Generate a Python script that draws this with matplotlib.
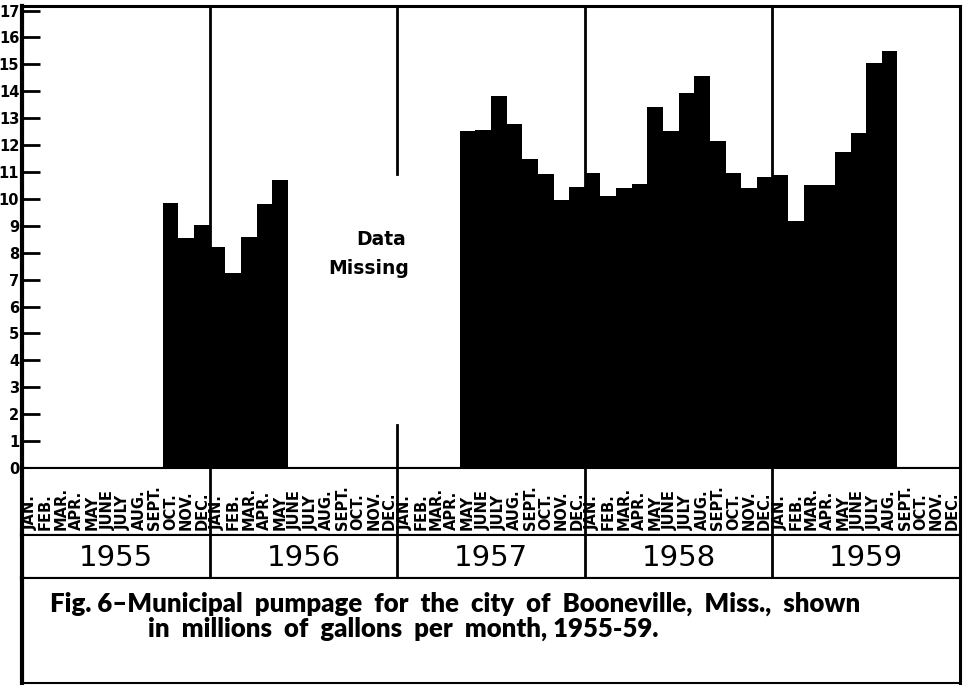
import numpy as np
import matplotlib.pyplot as plt

nan = np.nan

# monthly pumpage, millions of gallons (nan = no data)
years = ['1955', '1956', '1957', '1958', '1959']
months = ['JAN.', 'FEB.', 'MAR.', 'APR.', 'MAY', 'JUNE',
          'JULY', 'AUG.', 'SEPT.', 'OCT.', 'NOV.', 'DEC.']
pump_1955 = [nan, nan, nan, nan, nan, nan, nan, nan, nan, 9.85, 8.55, 9.03]
pump_1956 = [8.23, 7.25, 8.6, 9.81, 10.7, nan, nan, nan, nan, nan, nan, nan]
pump_1957 = [nan, nan, nan, nan, 12.53, 12.57, 13.83, 12.79, 11.49, 10.94, 9.96, 10.46]
pump_1958 = [10.97, 10.11, 10.41, 10.56, 13.43, 12.53, 13.94, 14.55, 12.16, 10.97, 10.42, 10.83]
pump_1959 = [10.89, 9.18, 10.52, 10.5, 11.76, 12.45, 15.07, 15.51, nan, nan, nan, nan]

pump = np.array(pump_1955 + pump_1956 + pump_1957 + pump_1958 + pump_1959)
idx = np.arange(len(pump))
have = ~np.isnan(pump)

W, H = 968, 685
fig = plt.figure(figsize=(W / 100, H / 100), dpi=100)

def box(x0, y_top, x1, y_bot):
    return [x0 / W, (H - y_bot) / H, (x1 - x0) / W, (y_bot - y_top) / H]

bold = dict(fontweight='bold', family='DejaVu Sans')

# main chart
ax = fig.add_axes(box(22, 6, 960, 468))
ax.bar(idx[have], pump[have], width=1, align='edge', color='black', zorder=3)
ax.set_xlim(0, 60)
ax.set_ylim(0, 17.17)
ax.set_xticks([])
ax.set_yticks(range(0, 18))
ax.set_yticklabels([str(v) for v in range(0, 18)], fontsize=10.5, **bold)
ax.tick_params(axis='y', direction='in', length=13, width=2, pad=2)
ax.spines['left'].set_linewidth(3)
ax.spines['top'].set_linewidth(2.2)
ax.spines['right'].set_linewidth(2.2)
ax.spines['bottom'].set_linewidth(1.5)

for k in range(1, 5):
    xb = 12 * k
    if k == 2:
        ax.plot([xb, xb], [10.93, 17.17], color='black', lw=2, zorder=2)
        ax.plot([xb, xb], [0, 1.6], color='black', lw=2, zorder=2)
    else:
        ax.axvline(xb, color='black', lw=2, zorder=2)

ax.text(23.0, 8.5, 'Data', ha='center', va='center', fontsize=13.5, **bold)
ax.text(22.2, 7.43, 'Missing', ha='center', va='center', fontsize=13.5, **bold)

# month label band
mx = fig.add_axes(box(22, 468, 960, 535))
mx.set_xlim(0, 60)
mx.set_ylim(0, 1)
mx.set_xticks([])
mx.set_yticks([])
for i in range(60):
    mx.text(i + 0.5, 0.08, months[i % 12], rotation=90, ha='center', va='bottom',
            fontsize=10.5, **bold)
for k in range(1, 5):
    mx.axvline(12 * k, color='black', lw=2)

# year band
yx = fig.add_axes(box(22, 535, 960, 578))
yx.set_xlim(0, 60)
yx.set_ylim(0, 1)
yx.set_xticks([])
yx.set_yticks([])
for k, yr in enumerate(years):
    yx.text(12 * k + 6, 0.47, yr, ha='center', va='center', fontsize=21,
            family='DejaVu Sans')
for k in range(1, 5):
    yx.axvline(12 * k, color='black', lw=2)

# caption box
cx = fig.add_axes(box(22, 578, 960, 683))
cx.set_xlim(0, 1)
cx.set_ylim(0, 1)
cx.set_xticks([])
cx.set_yticks([])
cx.text(0.03, 0.75, 'Fig. 6\u2013Municipal  pumpage  for  the  city  of  Booneville,  Miss.,  shown',
        ha='left', va='center', fontsize=18.5, fontweight='heavy', family='Lato')
cx.text(0.134, 0.52, 'in  millions  of  gallons  per  month, 1955-59.',
        ha='left', va='center', fontsize=18.5, fontweight='heavy', family='Lato')

for a in (mx, yx, cx):
    a.spines['left'].set_linewidth(3)
    a.spines['right'].set_linewidth(2.2)
    a.spines['top'].set_linewidth(1.5)
    a.spines['bottom'].set_linewidth(1.5)

fig.savefig('out.png', dpi=100)
